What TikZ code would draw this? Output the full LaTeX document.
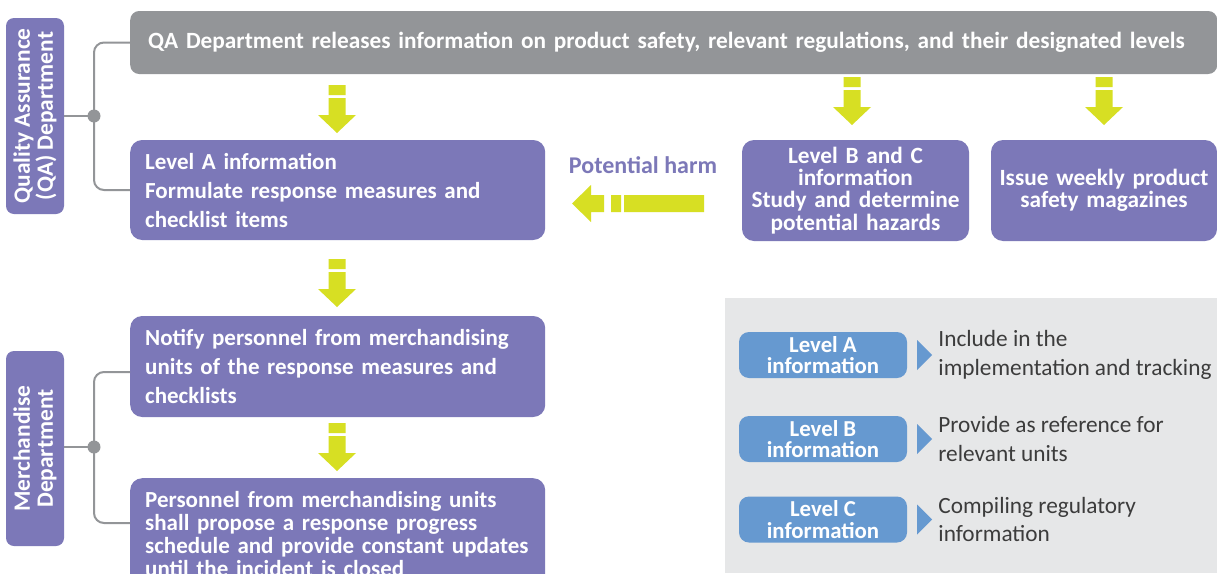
\documentclass[tikz,border=0pt]{standalone}
\usepackage{fontspec}
\setmainfont{Carlito}
\usetikzlibrary{positioning}
\definecolor{qapurple}{RGB}{124,120,184}
\definecolor{qagray}{RGB}{147,149,152}
\definecolor{qalime}{RGB}{215,223,35}
\definecolor{qablue}{RGB}{102,153,208}
\definecolor{qapanel}{RGB}{230,231,232}
\definecolor{qatext}{RGB}{60,60,60}
\tikzset{
  limearrow/.pic={
    \fill[qalime] (-8.5,0) rectangle (8.5,10)
      (-8.5,13) -- (8.5,13) -- (8.5,30) -- (19,30) -- (0,48) -- (-19,30) -- (-8.5,30) -- cycle;
  },
}
\begin{document}
\begin{tikzpicture}[
    x=1pt, y=-1pt,
    stepbox/.style={fill=qapurple, rounded corners=12pt, text=white, inner sep=0pt,
      font=\bfseries\fontsize{23}{29}\selectfont},
    leftbox/.style={stepbox, anchor=west, align=left, inner xsep=15pt, text width=385pt,
      minimum width=415pt},
    dept/.style={fill=qapurple, rounded corners=8pt, text=white, inner sep=0pt, rotate=90,
      align=center, minimum height=58pt, font=\bfseries\fontsize{23.4}{23}\selectfont},
    level/.style={fill=qablue, rounded corners=10pt, text=white, inner sep=0pt, align=center,
      minimum width=168pt, minimum height=46pt, font=\bfseries\fontsize{22.8}{21.5}\selectfont},
    note/.style={text=qatext, inner sep=0pt, align=left, anchor=west,
      font=\fontsize{23.3}{28.5}\selectfont},
    bracket/.style={draw=qagray, line width=2pt, rounded corners=10pt},
  ]
    \clip (0,0) rectangle (1217,573);
    \fill[white] (0,0) rectangle (1217,573);

    % Quality Assurance side
    \node[dept, minimum width=196pt] (qa) at (35,116) {Quality Assurance\\(QA) Department};
    \node[stepbox, fill=qagray, rounded corners=9pt, anchor=west, align=left, inner xsep=18pt,
      text width=1051pt, minimum height=63pt, font=\bfseries\fontsize{23.3}{24}\selectfont] (release) at (130,42.5)
      {\mbox{QA Department releases information on product safety, relevant regulations, and their designated levels}};
    \node[leftbox, minimum height=100pt] (levela) at (130,190)
      {Level A information\\Formulate response measures and\\checklist items};
    \node[stepbox, text width=220pt, minimum width=227pt, minimum height=101pt, align=center,
      font=\bfseries\fontsize{23.3}{22.3}\selectfont] (levelbc) at (855.5,190.5)
      {Level B and C\\information\\Study and determine\\potential hazards};
    \node[stepbox, text width=220pt, minimum width=226pt, minimum height=101pt, align=center,
      font=\bfseries\fontsize{23.3}{21.5}\selectfont] (weekly) at (1104,190.5)
      {Issue weekly product\\safety magazines};
    \node[text=qapurple, font=\bfseries\fontsize{24}{24}\selectfont, inner sep=0pt] (harm) at (643,165) {Potential harm};

    \coordinate (qajoin) at (94,116);
    \draw[bracket] (release.west) -| (qajoin) |- (levela.west);
    \draw[bracket] (qa.south) -- (qajoin);
    \fill[qagray] (qajoin) circle (6.5pt);

    % Merchandise side
    \node[dept, minimum width=195pt] (merch) at (35,448.5) {Merchandise\\Department};
    \node[leftbox, minimum height=101pt] (notify) at (130,366.5)
      {Notify personnel from merchandising\\units of the response measures and\\checklists};
    \node[leftbox, minimum height=112pt, anchor=north west, inner ysep=9pt,
      font=\bfseries\fontsize{23}{23}\selectfont] (personnel) at (130,478)
      {Personnel from merchandising units\\shall propose a response progress\\schedule and provide constant updates\\until the incident is closed};

    \coordinate (mjoin) at (94,447);
    \coordinate (pjoin) at (130,523);
    \draw[bracket] (notify.west |- 0,372) -| (mjoin) |- (pjoin);
    \draw[bracket] (merch.south |- mjoin) -- (mjoin);
    \fill[qagray] (mjoin) circle (6.5pt);

    % arrows
    \pic at (337,85) {limearrow};
    \pic at (852,77) {limearrow};
    \pic at (1104,77) {limearrow};
    \pic at (337,259) {limearrow};
    \pic at (337,423) {limearrow};
    \fill[qalime] (572,203.5) -- (591,185) -- (591,195) -- (604,195) -- (604,212) -- (591,212) -- (591,222) -- cycle
      (611,195) rectangle (621,212) (624,195) rectangle (704,212);

    % legend
    \fill[qapanel] (725,298) rectangle (1217,573);
    \node[level] (lva) at (823,355) {Level A\\information};
    \node[level] (lvb) at (823,439) {Level B\\information};
    \node[level] (lvc) at (823,519.5) {Level C\\information};
    \foreach \lv in {lva,lvb,lvc}
      \fill[qablue] ([xshift=10pt]\lv.east) ++(0,-15) -- ++(15,15) -- ++(-15,15) -- cycle;
    \node[note, right=31pt of lva] (nota) {Include in the\\implementation and tracking};
    \node[note, right=31pt of lvb] (notb) {Provide as reference for\\relevant units};
    \node[note, right=31pt of lvc] (notc) {Compiling regulatory\\information};
  \end{tikzpicture}
\end{document}
